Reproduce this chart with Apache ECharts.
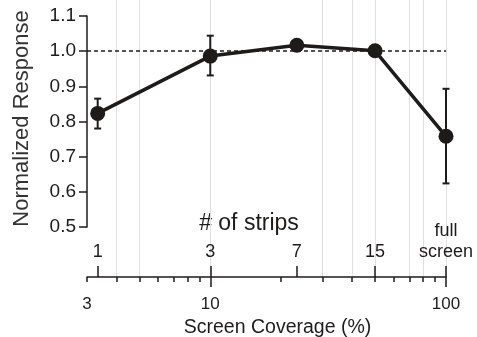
<!DOCTYPE html>
<html>
<head>
<meta charset="utf-8">
<script src="https://cdn.jsdelivr.net/npm/echarts@6/dist/echarts.min.js"></script>
<style>
html, body { margin: 0; padding: 0; background: #fff; }
#chart { width: 477px; height: 337px; }
</style>
</head>
<body>
<div id="chart"></div>
<script>
// screen coverage (%) for each strip condition
const coverage = [3.33, 10, 23.3, 50, 100];
const stripLabels = ["1", "3", "7", "15", "full\nscreen"];
const response = [0.823, 0.986, 1.017, 1.001, 0.758];
const errLow = [0.780, 0.931, 1.007, 0.993, 0.624];
const errHigh = [0.865, 1.044, 1.027, 1.009, 0.893];
const majorTicks = [3, 10, 100];
const minorTicks = [3, 4, 5, 6, 7, 8, 9, 20, 30, 40, 50, 60, 70, 80, 90];
const gridLines = [4, 5, 10, 30, 40, 50, 70, 80, 100];
const refLevel = 1.0;

const ink = "#1e1b1b";
const font = "Liberation Sans";

const chart = echarts.init(document.getElementById("chart"));

const stripLabel = v => {
	const i = coverage.findIndex(c => Math.abs(c - v) < 0.02 * c);
	return i < 0 ? "" : stripLabels[i];
};

const xBase = {
	type: "log",
	logBase: 10,
	min: 3,
	max: 100,
	gridIndex: 0,
	position: "bottom",
	offset: 50,
	splitLine: { show: false },
	minorTick: { show: false },
	axisLine: { show: false }
};

const option = {
	animation: false,
	textStyle: { fontFamily: font },
	grid: [
		{ left: 87, right: 31, top: 16, bottom: 110, outerBoundsMode: "none" },
		{ left: 87, right: 31, top: 0, bottom: 60, outerBoundsMode: "none" }
	],
	graphic: [{
		type: "text",
		style: {
			x: 249,
			y: 224,
			align: "center",
			verticalAlign: "middle",
			text: "# of strips",
			font: "23px " + font,
			fill: ink
		}
	}],
	xAxis: [
		Object.assign({}, xBase, {
			axisLine: { show: true, lineStyle: { color: ink, width: 1.5 } },
			axisTick: { show: true, length: 10, customValues: [10, 100], lineStyle: { color: ink, width: 1.5 } },
			axisLabel: { customValues: majorTicks, margin: 19, fontSize: 17, color: ink, fontFamily: font },
			name: "Screen Coverage (%)",
			nameLocation: "middle",
			nameGap: 36,
			nameTextStyle: { fontSize: 19.5, color: ink, fontFamily: font, padding: [0, 0, 0, 22] }
		}),
		Object.assign({}, xBase, {
			axisTick: { show: true, length: 5, customValues: minorTicks, lineStyle: { color: ink, width: 1.5 } },
			axisLabel: { show: false }
		}),
		Object.assign({}, xBase, {
			axisTick: { show: true, inside: true, length: 11, customValues: coverage, lineStyle: { color: ink, width: 1.5 } },
			axisLabel: {
				inside: true,
				margin: 14,
				customValues: coverage,
				formatter: stripLabel,
				fontSize: 18,
				lineHeight: 21,
				color: ink,
				fontFamily: font
			}
		}),
		{
			type: "log",
			min: 3,
			max: 100,
			gridIndex: 1,
			show: false
		}
	],
	yAxis: [
		{
			type: "value",
			gridIndex: 0,
			min: 0.5,
			max: 1.1,
			interval: 0.1,
			splitLine: { show: false },
			axisLine: { show: true, lineStyle: { color: ink, width: 1.5 } },
			axisTick: { show: true, length: 8, lineStyle: { color: ink, width: 1.5 } },
			axisLabel: { formatter: v => v.toFixed(1), fontSize: 19, color: ink, margin: 11, fontFamily: font },
			name: "Normalized Response",
			nameLocation: "middle",
			nameGap: 54,
			nameTextStyle: { fontSize: 22, color: "#333", fontFamily: font, padding: [0, 0, 0, 6] }
		},
		{ type: "value", gridIndex: 1, min: 0, max: 1, show: false }
	],
	series: [
		{
			type: "line",
			xAxisIndex: 3,
			yAxisIndex: 1,
			data: [],
			silent: true,
			z: 0,
			markLine: {
				silent: true,
				z: 0,
				symbol: "none",
				label: { show: false },
				lineStyle: { color: "#e0e0e0", width: 1, type: "solid" },
				data: gridLines.map(v => ({ xAxis: v }))
			}
		},
		{
			type: "custom",
			xAxisIndex: 0,
			yAxisIndex: 0,
			z: 5,
			data: coverage.map((c, i) => [c, errLow[i], errHigh[i]]),
			renderItem: (params, api) => {
				const lo = api.coord([api.value(0), api.value(1)]);
				const hi = api.coord([api.value(0), api.value(2)]);
				const w = 3.5;
				const style = { stroke: ink, lineWidth: 2 };
				return {
					type: "group",
					children: [
						{ type: "line", shape: { x1: lo[0], y1: lo[1], x2: hi[0], y2: hi[1] }, style },
						{ type: "line", shape: { x1: lo[0] - w, y1: lo[1], x2: lo[0] + w, y2: lo[1] }, style },
						{ type: "line", shape: { x1: hi[0] - w, y1: hi[1], x2: hi[0] + w, y2: hi[1] }, style }
					]
				};
			}
		},
		{
			type: "line",
			xAxisIndex: 0,
			yAxisIndex: 0,
			z: 4,
			data: coverage.map((c, i) => [c, response[i]]),
			symbol: "circle",
			symbolSize: 15,
			lineStyle: { color: ink, width: 3.5 },
			itemStyle: { color: ink },
			markLine: {
				silent: true,
				z: 3,
				symbol: "none",
				label: { show: false },
				lineStyle: { color: ink, width: 1.5, type: [4, 3] },
				data: [{ yAxis: refLevel }]
			}
		}
	]
};

chart.setOption(option);
window.onresize = chart.resize;
</script>
</body>
</html>
